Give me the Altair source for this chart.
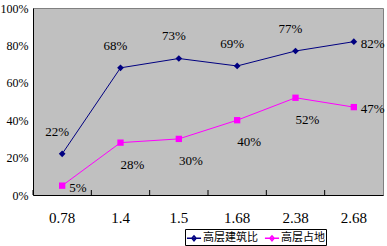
import altair as alt
import pandas as pd

categories = ["0.78", "1.4", "1.5", "1.68", "2.38", "2.68"]
series_names = ["高层建筑比", "高层占地"]
blue_values = [0.22, 0.68, 0.73, 0.69, 0.77, 0.82]
pink_values = [0.05, 0.28, 0.30, 0.40, 0.52, 0.47]
y_ticks = [0, 0.2, 0.4, 0.6, 0.8, 1.0]
colors = ["#000080", "#FF00FF"]

rows = []
for c, v in zip(categories, blue_values):
    rows.append({"cat": c, "series": series_names[0], "value": v})
for c, v in zip(categories, pink_values):
    rows.append({"cat": c, "series": series_names[1], "value": v})
df = pd.DataFrame(rows)

W, H = 350, 187
FONT = "Liberation Serif"
xs = alt.X("cat:N", sort=categories, scale=alt.Scale(paddingInner=0, paddingOuter=0),
           axis=alt.Axis(title=None, labelAngle=0))
ys = alt.Y("value:Q", scale=alt.Scale(domain=[0, 1], nice=False),
           axis=alt.Axis(title=None, format="%", values=y_ticks))
cenc = alt.Color("series:N", scale=alt.Scale(domain=series_names, range=colors),
                 legend=alt.Legend(title=None, orient="none", legendX=152, legendY=221,
                                   direction="horizontal", columns=2,
                                   symbolType="M-1,0H1M-0.3,0L0,-0.35L0.3,0L0,0.35Z",
                                   symbolSize=200, symbolStrokeWidth=1.5,
                                   labelFont="Noto Sans CJK SC", labelFontSize=11,
                                   labelColor="black", strokeColor="black", padding=1,
                                   columnPadding=3, labelOffset=1))

base = alt.Chart(df)
lines = base.mark_line(strokeWidth=1).encode(x=xs, y=ys, color=cenc)
pts_blue = base.transform_filter(alt.datum.series == series_names[0]).mark_point(
    filled=True, size=45, opacity=1, shape="diamond", color=colors[0]).encode(x=xs, y=ys)
pts_pink = base.transform_filter(alt.datum.series == series_names[1]).mark_point(
    filled=True, size=40, opacity=1, shape="square", color=colors[1]).encode(x=xs, y=ys)

fmt = alt.Text("value:Q", format=".0%")
tstyle = dict(font=FONT, fontSize=13, color="black")
lab_blue = base.transform_filter(
    (alt.datum.series == series_names[0]) & (alt.datum.cat != categories[-1])
).mark_text(dy=-22, dx=-5, **tstyle).encode(x=xs, y=ys, text=fmt)
lab_pink = base.transform_filter(
    (alt.datum.series == series_names[1]) & (alt.datum.cat != categories[-1]) & (alt.datum.cat != categories[0])
).mark_text(dy=22, dx=12, **tstyle).encode(x=xs, y=ys, text=fmt)
lab_side = base.transform_filter(
    (alt.datum.cat == categories[-1]) | ((alt.datum.cat == categories[0]) & (alt.datum.series == series_names[1]))
).mark_text(dx=7, dy=2, align="left", **tstyle).encode(x=xs, y=ys, text=fmt)

ticks = alt.Chart(pd.DataFrame({"cat": categories})).mark_rule(color="black", strokeWidth=1).encode(
    x=alt.X("cat:N", sort=categories, bandPosition=0),
    y=alt.value(H), y2=alt.value(H - 5))

chart = alt.layer(lines, pts_blue, pts_pink, ticks, lab_blue, lab_pink, lab_side).properties(
    width=W, height=H,
    autosize=alt.AutoSizeParams(type="none"),
    padding={"left": 33, "top": 8, "right": 4, "bottom": 51},
    background="white",
).configure_view(fill="#C0C0C0", stroke="#808080", strokeWidth=1
).configure_axis(
    grid=False, ticks=False, labelFont=FONT, labelColor="black",
    domainColor="black", domainWidth=1, labelOverlap=False, labelFlush=False
).configure_axisX(labelFontSize=15, labelPadding=15
).configure_axisY(labelFontSize=12, labelPadding=5)

chart.save("out.html", embed_options={"renderer": "svg", "actions": False})
